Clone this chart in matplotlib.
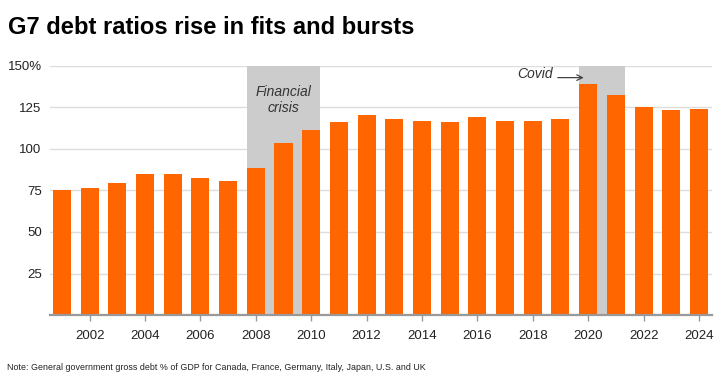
import matplotlib
matplotlib.use("Agg")
import matplotlib.pyplot as plt

years = list(range(2001, 2025))
debt = [75.0, 76.5, 79.7, 84.9, 85.0, 82.3, 80.7, 88.4, 103.4, 111.6, 116.5, 120.5,
        118.3, 117.1, 116.1, 119.1, 117.1, 116.7, 117.9, 139.2, 132.3, 125.3, 123.3, 124.3]
yticks = [25, 50, 75, 100, 125, 150]
ytick_labels = ["25", "50", "75", "100", "125", "150%"]
xticks = list(range(2002, 2025, 2))
shades = [(2008, 2010), (2020, 2021)]

plt.rcParams['font.family'] = ['Liberation Sans', 'DejaVu Sans']

fig = plt.figure(figsize=(7.24, 3.79), dpi=100)
ax = fig.add_axes([50/724, 1-315/379, 662/724, 249/379])

bw = 0.65
for a, b in shades:
    ax.axvspan(a - bw/2, b + bw/2, ymin=0, ymax=1, color="#cccccc", lw=0, zorder=1)
for t in yticks:
    ax.axhline(t, color="#dddddd", lw=1, zorder=0.5)
ax.bar(years, debt, width=bw, color="#ff6600", zorder=2)

ax.set_xlim(2000.57, 2024.47)
ax.set_ylim(0, 150)
ax.set_yticks(yticks)
ax.set_yticklabels(ytick_labels)
ax.set_xticks(xticks)
ax.set_xticklabels([str(x) for x in xticks])
for s in ["top", "right", "left"]:
    ax.spines[s].set_visible(False)
ax.spines["bottom"].set_color("#999999")
ax.spines["bottom"].set_linewidth(1.6)
ax.spines["bottom"].set_zorder(3)
ax.tick_params(axis="y", length=0, pad=6, labelsize=9.5, labelcolor="#222222")
ax.tick_params(axis="x", length=4, width=1, color="#999999", pad=7, labelsize=9.5, labelcolor="#222222")

ax.text(2009, 129.5, "Financial\ncrisis", ha="center", va="center", style="italic",
        fontsize=10, color="#333333", linespacing=1.1, zorder=4)
ax.annotate("", xy=(2019.94, 143), xytext=(2018.8, 143),
            arrowprops=dict(arrowstyle="->", color="#444444", lw=0.9), zorder=4)
ax.text(2018.71, 145, "Covid", ha="right", va="center", style="italic",
        fontsize=10, color="#333333", zorder=4)

fig.text(8/724, 1-27/379, "G7 debt ratios rise in fits and bursts", ha="left", va="center",
         fontsize=17.1, fontweight="bold", color="#000000")
fig.text(7/724, 1-367/379,
         "Note: General government gross debt % of GDP for Canada, France, Germany, Italy, Japan, U.S. and UK",
         ha="left", va="center", fontsize=6.4, color="#222222")

fig.savefig("out.png", dpi=100)
